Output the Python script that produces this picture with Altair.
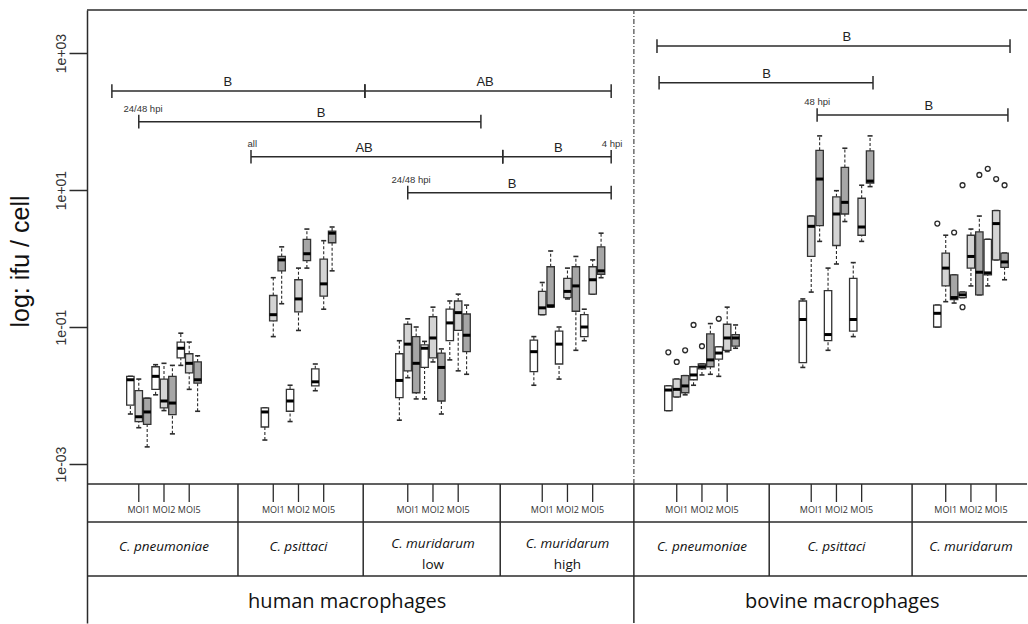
import altair as alt
import pandas as pd

# ---------------- values (log10 ifu / cell) ----------------
# each tuple: (lower whisker, Q1, median, Q3, upper whisker)
# order inside a group: MOI1 4/24/48 hpi, MOI2 4/24/48 hpi, MOI5 4/24/48 hpi
hum_pneumoniae = [
    (-2.27, -2.14, -1.77, -1.72, -1.72), (-2.47, -2.38, -2.31, -1.93, -1.76), (-2.75, -2.42, -2.24, -2.04, -2.04),
    (-1.99, -1.91, -1.72, -1.58, -1.55), (-2.22, -2.18, -2.08, -1.76, -1.53), (-2.56, -2.28, -2.11, -1.72, -1.56),
    (-1.56, -1.45, -1.31, -1.22, -1.09), (-1.91, -1.67, -1.53, -1.39, -1.22), (-2.23, -1.82, -1.77, -1.51, -1.42),
]
hum_psittaci = [
    (-2.65, -2.46, -2.24, -2.18, -2.18), (-1.14, -0.91, -0.82, -0.54, -0.28), (-0.66, -0.18, -0.02, 0.03, 0.17),
    (-2.38, -2.23, -2.08, -1.91, -1.85), (-1.05, -0.78, -0.59, -0.31, -0.14), (-0.14, -0.03, 0.07, 0.28, 0.43),
    (-1.93, -1.86, -1.80, -1.61, -1.54), (-0.74, -0.55, -0.37, -0.01, 0.26), (-0.18, 0.23, 0.37, 0.40, 0.46),
]
hum_muridarum_low = [
    (-2.36, -2.03, -1.78, -1.39, -1.20), (-1.74, -1.64, -1.25, -0.96, -0.88), (-2.05, -1.96, -1.53, -1.14, -1.00),
    (-2.05, -1.59, -1.31, -1.26, -1.21), (-1.51, -1.45, -1.16, -0.85, -0.71), (-2.27, -2.08, -1.59, -1.38, -1.32),
    (-1.48, -1.20, -0.94, -0.74, -0.62), (-1.64, -1.05, -0.79, -0.62, -0.52), (-1.69, -1.36, -1.12, -0.81, -0.68),
]
hum_muridarum_high = [
    (-1.85, -1.65, -1.36, -1.19, -1.14), (-0.82, -0.82, -0.72, -0.48, -0.35), (-0.71, -0.71, -0.69, -0.12, 0.11),
    (-1.76, -1.54, -1.25, -1.06, -1.00), (-0.59, -0.57, -0.48, -0.29, -0.14), (-1.34, -0.77, -0.40, -0.12, 0.03),
    (-1.20, -1.14, -1.00, -0.82, -0.74), (-0.52, -0.52, -0.31, -0.12, -0.02), (-0.28, -0.23, -0.18, 0.17, 0.37),
]
bov_pneumoniae = [
    (-2.22, -2.22, -1.92, -1.86, -1.86), (-2.02, -2.02, -1.91, -1.76, -1.76), (-1.99, -1.96, -1.86, -1.71, -1.71),
    (-1.85, -1.77, -1.70, -1.58, -1.58), (-1.70, -1.61, -1.58, -1.54, -1.54), (-1.69, -1.58, -1.48, -1.10, -0.95),
    (-1.72, -1.47, -1.38, -1.29, -1.29), (-1.36, -1.34, -1.16, -0.96, -0.71), (-1.31, -1.28, -1.16, -1.11, -0.97),
]
bov_psittaci = [
    (-1.59, -1.52, -0.89, -0.62, -0.59), (-0.49, 0.03, 0.47, 0.62, 0.62), (0.25, 0.48, 1.16, 1.58, 1.79),
    (-1.34, -1.20, -1.11, -0.47, -0.14), (-0.08, 0.19, 0.65, 0.90, 0.99), (0.54, 0.65, 0.82, 1.33, 1.61),
    (-1.14, -1.06, -0.89, -0.29, -0.06), (0.25, 0.34, 0.46, 0.88, 1.07), (1.05, 1.10, 1.13, 1.57, 1.79),
]
bov_muridarum = [
    (-1.00, -1.00, -0.80, -0.68, -0.68), (-0.63, -0.40, -0.14, 0.08, 0.34), (-0.65, -0.60, -0.57, -0.24, -0.24),
    (-0.57, -0.57, -0.53, -0.49, -0.49), (-0.40, -0.14, 0.03, 0.34, 0.43), (-0.53, -0.53, -0.20, 0.39, 0.62),
    (-0.40, -0.24, -0.21, 0.28, 0.28), (-0.02, -0.02, 0.51, 0.70, 0.70), (-0.31, -0.13, -0.05, 0.08, 0.08),
]
box_groups = [hum_pneumoniae, hum_psittaci, hum_muridarum_low, hum_muridarum_high,
              bov_pneumoniae, bov_psittaci, bov_muridarum]

# outliers: (group index, box index, value)
outliers = [(4, 0, -1.37), (4, 1, -1.51), (4, 2, -1.34), (4, 3, -0.97), (4, 4, -1.28), (4, 6, -0.88),
            (6, 0, 0.51), (6, 2, 0.38), (6, 3, 1.07), (6, 3, -0.71), (6, 5, 1.22), (6, 6, 1.31),
            (6, 7, 1.16), (6, 8, 1.07)]

species_labels = ["C. pneumoniae", "C. psittaci", "C. muridarum", "C. muridarum",
                  "C. pneumoniae", "C. psittaci", "C. muridarum"]
species_sub = ["", "", "low", "high", "", "", ""]
moi_labels = ["MOI1", "MOI2", "MOI5"]
time_labels = ["4 hpi", "24 hpi", "48 hpi"]
host_labels = ["human macrophages", "bovine macrophages"]

tick_values = [3, 1, -1, -3]
tick_labels = ["1e+03", "1e+01", "1e-01", "1e-03"]

# significance brackets: (start, end, level) in box-slot units / log10 units
sig_bars = [(-6.2, 23.9, 2.445), (23.9, 53.2, 2.445), (-3.0, 37.7, 1.997),
            (10.35, 40.3, 1.486), (40.3, 53.2, 1.486), (29.0, 53.2, 0.961),
            (58.65, 100.65, 3.102), (58.9, 84.35, 2.566), (77.7, 100.4, 2.095)]
sig_letters = [("B", 7.6, 2.445), ("AB", 38.2, 2.445), ("B", 18.7, 1.997), ("AB", 23.8, 1.486),
               ("B", 46.9, 1.486), ("B", 41.4, 0.961), ("B", 81.25, 3.102), ("B", 71.7, 2.566),
               ("B", 91.0, 2.095)]
sig_notes = [("24/48 hpi", -2.5, 1.997), ("all", 10.5, 1.486), ("4 hpi", 53.3, 1.486),
             ("24/48 hpi", 29.4, 0.961), ("48 hpi", 77.7, 2.095)]

# ---------------- layout constants ----------------
SLOTS_PER_GROUP = 16
MOI_STEP = 3
XMIN, XMAX = -9.16, 102.67
YMIN, YMAX = -5.321, 3.628
BOX_HALF = 0.44
STAPLE_HALF = 0.3
TICK_HALF = 0.1
ROW_TOP = -3.292       # bottom of plotting region / top of table
MOI_TICK_END = -3.555
MOI_TEXT = -3.672
ROW_2 = -3.847
SPECIES_TEXT = -4.21
SPECIES_L1, SPECIES_L2 = -4.168, -4.474
ROW_3 = -4.635
HOST_TEXT = -5.015
GROUP_EDGES = [8.8, 23.7, 40.0, 72.0, 89.0]
HOST_EDGE = 55.9
HOST_TEXT_X = [21.8, 80.7]

TIME_FILLS = ["#ffffff", "#d4d4d4", "#a6a6a6"]
INK = "#2b2b2b"

# ---------------- build tables ----------------
rows = []
for g, boxes in enumerate(box_groups):
    for i, (lo, q1, med, q3, hi) in enumerate(boxes):
        m, t = divmod(i, 3)
        pos = SLOTS_PER_GROUP * g + MOI_STEP * (m - 1) + (t - 1)
        rows.append(dict(pos=pos, xl=pos - BOX_HALF, xr=pos + BOX_HALF,
                         sl=pos - STAPLE_HALF, sr=pos + STAPLE_HALF,
                         lo=lo, q1=q1, med=med, q3=q3, hi=hi, time=time_labels[t]))
boxes_df = pd.DataFrame(rows)

out_df = pd.DataFrame([dict(pos=SLOTS_PER_GROUP * g + MOI_STEP * (i // 3 - 1) + (i % 3 - 1), v=v)
                       for g, i, v in outliers])

bar_df = pd.DataFrame([dict(x0=a, x1=b, y=y) for a, b, y in sig_bars])
bar_end_df = pd.DataFrame([dict(x=x, ya=y - TICK_HALF, yb=y + TICK_HALF)
                           for a, b, y in sig_bars for x in (a, b)])
let_df = pd.DataFrame([dict(t=s, x=x, y=y) for s, x, y in sig_letters])
note_df = pd.DataFrame([dict(t=s, x=x, y=y) for s, x, y in sig_notes])

label_expr = "'" + tick_labels[-1] + "'"
for v, l in zip(tick_values[:-1][::-1], tick_labels[:-1][::-1]):
    label_expr = f"datum.value == {v} ? '{l}' : " + label_expr

xs = alt.Scale(domain=[XMIN, XMAX], nice=False, zero=False)
ys = alt.Scale(domain=[YMIN, YMAX], nice=False, zero=False)
yaxis = alt.Axis(values=tick_values, labelExpr=label_expr, title="log: ifu / cell", grid=False,
                 domainColor=INK, domainWidth=1.5, tickColor=INK, tickWidth=1.5, tickSize=18,
                 labelAngle=270, labelAlign="center", labelBaseline="alphabetic", labelPadding=4,
                 labelFont="Liberation Sans", labelFontSize=14, labelColor="#333",
                 labelOverlap=False, labelFlush=False,
                 titleFont="Liberation Sans", titleFontSize=25, titleFontWeight="normal",
                 titleColor="#111", titleAngle=270, titleAlign="center", titleBaseline="alphabetic",
                 titleX=-59, titleY=251)


def X(f):
    return alt.X(f, type="quantitative", scale=xs, axis=None)


def Y(f):
    return alt.Y(f, type="quantitative", scale=ys, axis=yaxis)


layers = []
# whiskers (dashed) and staples
base = alt.Chart(boxes_df)
layers.append(base.mark_rule(color=INK, strokeWidth=1.1, strokeDash=[3, 2]).encode(
    x=X("pos"), y=Y("q3"), y2="hi"))
layers.append(base.mark_rule(color=INK, strokeWidth=1.1, strokeDash=[3, 2]).encode(
    x=X("pos"), y=Y("lo"), y2="q1"))
layers.append(base.mark_rule(color=INK, strokeWidth=1.6).encode(x=X("sl"), x2="sr", y=Y("lo")))
layers.append(base.mark_rule(color=INK, strokeWidth=1.6).encode(x=X("sl"), x2="sr", y=Y("hi")))
# boxes
layers.append(base.mark_rect(stroke="#333", strokeWidth=1.3).encode(
    x=X("xl"), x2="xr", y=Y("q1"), y2="q3",
    fill=alt.Fill("time:N", scale=alt.Scale(domain=time_labels, range=TIME_FILLS), legend=None)))
# medians
layers.append(base.mark_rule(color="#000", strokeWidth=3).encode(x=X("xl"), x2="xr", y=Y("med")))
# outliers
layers.append(alt.Chart(out_df).mark_point(shape="circle", filled=False, size=24, strokeWidth=1.3,
                                           color=INK, opacity=1).encode(x=X("pos"), y=Y("v")))
# significance brackets
layers.append(alt.Chart(bar_df).mark_rule(color=INK, strokeWidth=1.5).encode(
    x=X("x0"), x2="x1", y=Y("y")))
layers.append(alt.Chart(bar_end_df).mark_rule(color=INK, strokeWidth=1.5).encode(
    x=X("x"), y=Y("ya"), y2="yb"))
layers.append(alt.Chart(let_df).mark_text(font="Liberation Sans", fontSize=13, color="#222",
                                          baseline="alphabetic", dy=-5).encode(
    x=X("x"), y=Y("y"), text="t:N"))
layers.append(alt.Chart(note_df).mark_text(font="Liberation Sans", fontSize=9.5, color="#333",
                                           baseline="alphabetic", dy=-10).encode(
    x=X("x"), y=Y("y"), text="t:N"))

# frame and table lines
hlines = pd.DataFrame([dict(x0=XMIN, x1=XMAX, y=y) for y in (YMAX, ROW_TOP, ROW_2, ROW_3)])
layers.append(alt.Chart(hlines).mark_rule(color=INK, strokeWidth=1.5).encode(
    x=X("x0"), x2="x1", y=Y("y")))
vlines = pd.DataFrame([dict(x=x, ya=ROW_3, yb=ROW_TOP) for x in GROUP_EDGES] +
                      [dict(x=HOST_EDGE, ya=YMIN, yb=ROW_TOP)])
layers.append(alt.Chart(vlines).mark_rule(color=INK, strokeWidth=1.5).encode(
    x=X("x"), y=Y("ya"), y2="yb"))
dline = pd.DataFrame([dict(x=HOST_EDGE, ya=ROW_TOP, yb=YMAX)])
layers.append(alt.Chart(dline).mark_rule(color="#555", strokeWidth=1.3, strokeDash=[5, 2, 1, 2]).encode(
    x=X("x"), y=Y("ya"), y2="yb"))

moi_df = pd.DataFrame([dict(x=SLOTS_PER_GROUP * g + MOI_STEP * (m - 1), ya=MOI_TICK_END, yb=ROW_TOP,
                            yt=MOI_TEXT, t=moi_labels[m])
                       for g in range(len(box_groups)) for m in range(3)])
layers.append(alt.Chart(moi_df).mark_rule(color=INK, strokeWidth=1.3).encode(
    x=X("x"), y=Y("ya"), y2="yb"))
layers.append(alt.Chart(moi_df).mark_text(font="Open Sans", fontSize=9, color="#333",
                                          baseline="middle").encode(x=X("x"), y=Y("yt"), text="t:N"))

sp_rows = []
for g, (s, sub) in enumerate(zip(species_labels, species_sub)):
    sp_rows.append(dict(x=SLOTS_PER_GROUP * g, y=SPECIES_L1 if sub else SPECIES_TEXT, t=s))
sp_df = pd.DataFrame(sp_rows)
sub_df = pd.DataFrame([dict(x=SLOTS_PER_GROUP * g, y=SPECIES_L2, t=sub)
                       for g, sub in enumerate(species_sub) if sub])
layers.append(alt.Chart(sp_df).mark_text(font="Open Sans", fontSize=13.5, fontStyle="italic",
                                         color="#111", baseline="middle").encode(
    x=X("x"), y=Y("y"), text="t:N"))
layers.append(alt.Chart(sub_df).mark_text(font="Open Sans", fontSize=13.5, color="#111",
                                          baseline="middle").encode(x=X("x"), y=Y("y"), text="t:N"))
host_df = pd.DataFrame([dict(x=x, y=HOST_TEXT, t=t) for x, t in zip(HOST_TEXT_X, host_labels)])
layers.append(alt.Chart(host_df).mark_text(font="Open Sans", fontSize=20, color="#111",
                                           baseline="middle").encode(x=X("x"), y=Y("y"), text="t:N"))

chart = alt.layer(*layers).properties(
    width=940, height=613,
    autosize=alt.AutoSizeParams(type="none"),
    padding={"left": 87, "top": 10, "right": 1, "bottom": 1},
    background="white",
).configure_view(stroke=None)

chart.save("out.html", embed_options={"renderer": "svg", "actions": False})
